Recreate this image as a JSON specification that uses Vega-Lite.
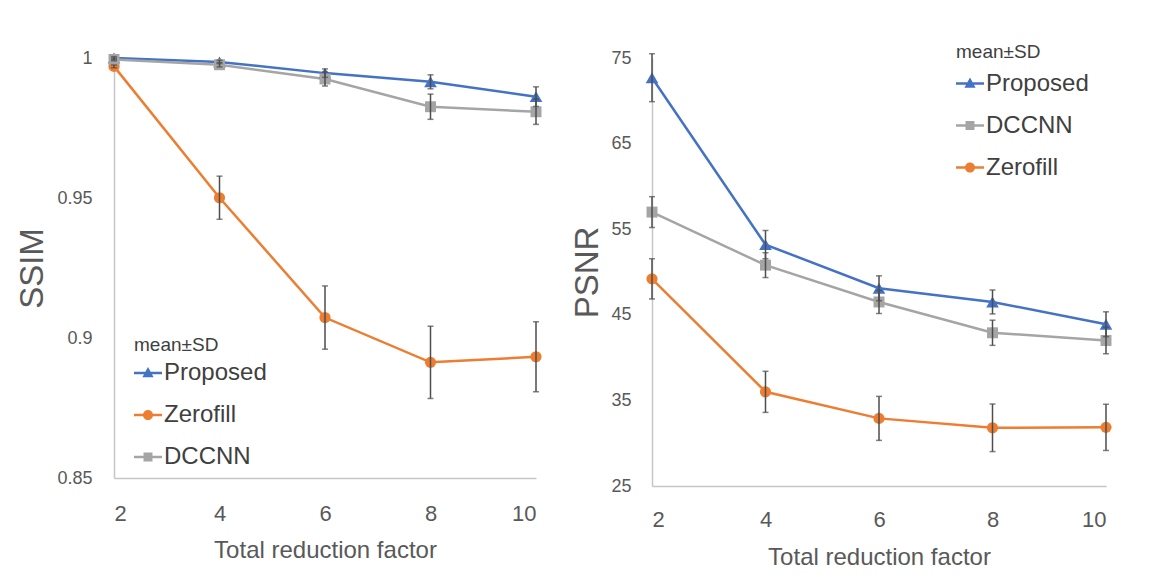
{
  "$schema": "https://vega.github.io/schema/vega-lite/v6.json",
  "padding": {"left": 16, "top": 43, "right": 10, "bottom": 10},
  "background": "white",
  "config": {
    "font": "Liberation Sans",
    "view": {"stroke": null},
    "axis": {"grid": false, "ticks": false, "domainColor": "#C6C6C6", "domainWidth": 1.5, "labelColor": "#595959", "titleColor": "#595959", "titleFontWeight": "normal"},
    "legend": {"padding": 0}
  },
  "bounds": "flush",
  "spacing": 116,
  "resolve": {"scale": {"color": "independent", "shape": "independent"}, "legend": {"color": "independent", "shape": "independent"}},
  "hconcat": [
    {
      "width": 422,
      "height": 420,
      "data": {"values": [
        {"R": 2, "method": "Proposed", "mean": 1.0, "sd": 0.0005},
        {"R": 4, "method": "Proposed", "mean": 0.9986, "sd": 0.0006},
        {"R": 6, "method": "Proposed", "mean": 0.9946, "sd": 0.0015},
        {"R": 8, "method": "Proposed", "mean": 0.9915, "sd": 0.0025},
        {"R": 10, "method": "Proposed", "mean": 0.9862, "sd": 0.0035},
        {"R": 2, "method": "Zerofill", "mean": 0.997, "sd": 0.0005},
        {"R": 4, "method": "Zerofill", "mean": 0.9501, "sd": 0.0077},
        {"R": 6, "method": "Zerofill", "mean": 0.9073, "sd": 0.0113},
        {"R": 8, "method": "Zerofill", "mean": 0.8913, "sd": 0.0129},
        {"R": 10, "method": "Zerofill", "mean": 0.8933, "sd": 0.0125},
        {"R": 2, "method": "DCCNN", "mean": 0.9995, "sd": 0.0005},
        {"R": 4, "method": "DCCNN", "mean": 0.9976, "sd": 0.0008},
        {"R": 6, "method": "DCCNN", "mean": 0.9925, "sd": 0.0025},
        {"R": 8, "method": "DCCNN", "mean": 0.9826, "sd": 0.0045},
        {"R": 10, "method": "DCCNN", "mean": 0.9808, "sd": 0.0045}
      ]},
      "encoding": {
        "x": {"field": "R", "type": "quantitative", "scale": {"domain": [2, 10], "nice": false, "zero": false},
              "axis": {"values": [2, 4, 6, 8, 10], "title": "Total reduction factor", "labelFontSize": 22, "labelPadding": 25, "titleFontSize": 24, "titlePadding": 14}},
        "y": {"field": "mean", "type": "quantitative", "scale": {"domain": [0.85, 1], "nice": false, "zero": false},
              "axis": {"values": [0.85, 0.9, 0.95, 1], "format": "~g", "title": "SSIM", "labelFontSize": 18, "labelPadding": 22, "titleFontSize": 33, "titlePadding": 7}}
      },
      "layer": [
        {
          "mark": {"type": "point", "filled": true, "opacity": 0},
          "encoding": {
            "color": {"field": "method", "type": "nominal", "title": "mean±SD",
                      "scale": {"domain": ["Proposed", "Zerofill", "DCCNN"], "range": ["#4472C4", "#ED7D31", "#A5A5A5"]},
                      "legend": {"orient": "none", "legendX": 20, "legendY": 277.5, "symbolSize": 784, "symbolOpacity": 1, "symbolStrokeWidth": 0, "labelFontSize": 24, "labelColor": "#404040", "labelOffset": 2, "titleFontSize": 19, "titleColor": "#404040", "titleFontWeight": "normal", "titlePadding": 4.5, "rowPadding": 16, "padding": 0}},
            "shape": {"field": "method", "type": "nominal", "title": "mean±SD",
                      "scale": {"domain": ["Proposed", "Zerofill", "DCCNN"], "range": [
                        "M-1,-0.09L1,-0.09L1,0.09L-1,0.09ZM0,-0.42L0.4,0.3L-0.4,0.3Z",
                        "M-1,-0.09L1,-0.09L1,0.09L-1,0.09ZM-0.36,0A0.36,0.36 0 1,1 0.36,0A0.36,0.36 0 1,1 -0.36,0Z",
                        "M-1,-0.09L1,-0.09L1,0.09L-1,0.09ZM-0.32,-0.32L0.32,-0.32L0.32,0.32L-0.32,0.32Z"]},
                      "legend": {"orient": "none", "legendX": 20, "legendY": 277.5, "symbolSize": 784, "symbolOpacity": 1, "symbolStrokeWidth": 0, "labelFontSize": 24, "labelColor": "#404040", "labelOffset": 2, "titleFontSize": 19, "titleColor": "#404040", "titleFontWeight": "normal", "titlePadding": 4.5, "rowPadding": 16, "padding": 0}}
          }
        },
        {
          "mark": {"type": "line", "strokeWidth": 2.5},
          "encoding": {"color": {"field": "method", "type": "nominal", "title": "mean±SD"}}
        },
        {
          "transform": [{"filter": {"field": "method", "equal": "Proposed"}}],
          "mark": {"type": "point", "shape": "triangle-up", "filled": true, "opacity": 1, "size": 160, "color": "#4472C4"},
          "encoding": {}
        },
        {
          "transform": [{"filter": {"field": "method", "equal": "Zerofill"}}],
          "mark": {"type": "point", "shape": "circle", "filled": true, "opacity": 1, "size": 125, "color": "#ED7D31"},
          "encoding": {}
        },
        {
          "transform": [{"filter": {"field": "method", "equal": "DCCNN"}}],
          "mark": {"type": "point", "shape": "square", "filled": true, "opacity": 1, "size": 120, "color": "#A5A5A5"},
          "encoding": {}
        },
        {
          "mark": {"type": "errorbar", "color": "#4D4D4D", "ticks": {"size": 6, "thickness": 1.5}, "rule": {"strokeWidth": 1.5}},
          "encoding": {"yError": {"field": "sd"}}
        }
      ]
    },
    {
      "width": 454,
      "height": 428,
      "data": {"values": [
        {"R": 2, "method": "Proposed", "mean": 72.7, "sd": 2.8},
        {"R": 4, "method": "Proposed", "mean": 53.2, "sd": 1.65},
        {"R": 6, "method": "Proposed", "mean": 48.1, "sd": 1.45},
        {"R": 8, "method": "Proposed", "mean": 46.5, "sd": 1.4},
        {"R": 10, "method": "Proposed", "mean": 43.9, "sd": 1.45},
        {"R": 2, "method": "DCCNN", "mean": 57.0, "sd": 1.8},
        {"R": 4, "method": "DCCNN", "mean": 50.8, "sd": 1.45},
        {"R": 6, "method": "DCCNN", "mean": 46.5, "sd": 1.35},
        {"R": 8, "method": "DCCNN", "mean": 42.9, "sd": 1.47},
        {"R": 10, "method": "DCCNN", "mean": 42.0, "sd": 1.55},
        {"R": 2, "method": "Zerofill", "mean": 49.2, "sd": 2.35},
        {"R": 4, "method": "Zerofill", "mean": 36.0, "sd": 2.4},
        {"R": 6, "method": "Zerofill", "mean": 32.9, "sd": 2.57},
        {"R": 8, "method": "Zerofill", "mean": 31.8, "sd": 2.78},
        {"R": 10, "method": "Zerofill", "mean": 31.85, "sd": 2.7}
      ]},
      "encoding": {
        "x": {"field": "R", "type": "quantitative", "scale": {"domain": [2, 10], "nice": false, "zero": false},
              "axis": {"values": [2, 4, 6, 8, 10], "title": "Total reduction factor", "labelFontSize": 22, "labelPadding": 23, "titleFontSize": 24, "titlePadding": 15}},
        "y": {"field": "mean", "type": "quantitative", "scale": {"domain": [25, 75], "nice": false, "zero": false},
              "axis": {"values": [25, 35, 45, 55, 65, 75], "title": "PSNR", "labelFontSize": 18, "labelPadding": 21, "titleFontSize": 33, "titlePadding": 6}}
      },
      "layer": [
        {
          "mark": {"type": "point", "filled": true, "opacity": 0},
          "encoding": {
            "color": {"field": "method", "type": "nominal", "title": "mean±SD",
                      "scale": {"domain": ["Proposed", "DCCNN", "Zerofill"], "range": ["#4472C4", "#A5A5A5", "#ED7D31"]},
                      "legend": {"orient": "none", "legendX": 304, "legendY": -15, "symbolSize": 784, "symbolOpacity": 1, "symbolStrokeWidth": 0, "labelFontSize": 24, "labelColor": "#404040", "labelOffset": 2, "titleFontSize": 19, "titleColor": "#404040", "titleFontWeight": "normal", "titlePadding": 7.5, "rowPadding": 16, "padding": 0}},
            "shape": {"field": "method", "type": "nominal", "title": "mean±SD",
                      "scale": {"domain": ["Proposed", "DCCNN", "Zerofill"], "range": [
                        "M-1,-0.09L1,-0.09L1,0.09L-1,0.09ZM0,-0.42L0.4,0.3L-0.4,0.3Z",
                        "M-1,-0.09L1,-0.09L1,0.09L-1,0.09ZM-0.32,-0.32L0.32,-0.32L0.32,0.32L-0.32,0.32Z",
                        "M-1,-0.09L1,-0.09L1,0.09L-1,0.09ZM-0.36,0A0.36,0.36 0 1,1 0.36,0A0.36,0.36 0 1,1 -0.36,0Z"]},
                      "legend": {"orient": "none", "legendX": 304, "legendY": -15, "symbolSize": 784, "symbolOpacity": 1, "symbolStrokeWidth": 0, "labelFontSize": 24, "labelColor": "#404040", "labelOffset": 2, "titleFontSize": 19, "titleColor": "#404040", "titleFontWeight": "normal", "titlePadding": 7.5, "rowPadding": 16, "padding": 0}}
          }
        },
        {
          "mark": {"type": "line", "strokeWidth": 2.5},
          "encoding": {"color": {"field": "method", "type": "nominal", "title": "mean±SD"}}
        },
        {
          "transform": [{"filter": {"field": "method", "equal": "Proposed"}}],
          "mark": {"type": "point", "shape": "triangle-up", "filled": true, "opacity": 1, "size": 160, "color": "#4472C4"},
          "encoding": {}
        },
        {
          "transform": [{"filter": {"field": "method", "equal": "Zerofill"}}],
          "mark": {"type": "point", "shape": "circle", "filled": true, "opacity": 1, "size": 125, "color": "#ED7D31"},
          "encoding": {}
        },
        {
          "transform": [{"filter": {"field": "method", "equal": "DCCNN"}}],
          "mark": {"type": "point", "shape": "square", "filled": true, "opacity": 1, "size": 120, "color": "#A5A5A5"},
          "encoding": {}
        },
        {
          "mark": {"type": "errorbar", "color": "#4D4D4D", "ticks": {"size": 6, "thickness": 1.5}, "rule": {"strokeWidth": 1.5}},
          "encoding": {"yError": {"field": "sd"}}
        }
      ]
    }
  ]
}
